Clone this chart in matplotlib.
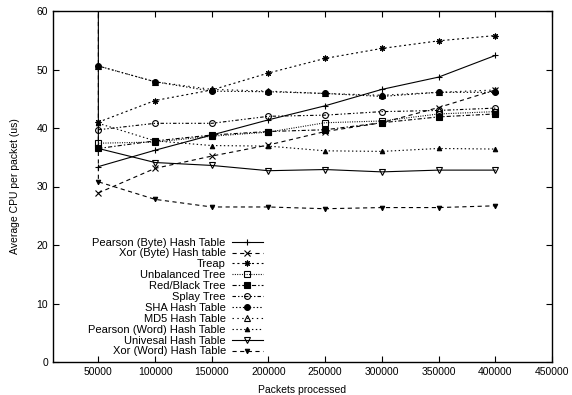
import matplotlib
matplotlib.use("Agg")
import matplotlib.pyplot as plt

plt.rcParams['font.family'] = ['Liberation Sans', 'DejaVu Sans']
plt.rcParams['font.size'] = 7.5
plt.rcParams['lines.scale_dashes'] = False

packets = [50000, 100000, 150000, 200000, 250000, 300000, 350000, 400000]

pearson_byte = [33.4, 36.2, 38.8, 41.4, 43.8, 46.6, 48.7, 52.4]
xor_byte = [28.9, 33.1, 35.2, 37.1, 39.4, 40.9, 43.5, 46.5]
treap = [41.0, 44.7, 46.5, 49.4, 51.9, 53.6, 54.9, 55.8]
unbalanced = [37.4, 37.6, 38.6, 39.3, 40.9, 41.2, 42.4, 42.8]
red_black = [36.5, 37.8, 38.8, 39.4, 39.7, 40.9, 41.9, 42.4]
splay = [39.7, 40.8, 40.8, 42.0, 42.2, 42.8, 43.0, 43.4]
sha = [50.6, 47.9, 46.3, 46.2, 45.9, 45.4, 46.1, 46.1]
md5 = [50.6, 47.9, 46.6, 46.3, 45.9, 45.6, 46.1, 46.5]
pearson_word = [40.8, 37.8, 37.0, 36.9, 36.1, 36.0, 36.5, 36.4]
# the two word hashes start with an off-scale warm-up sample at 50000
warmup_x = [50000]
universal = [100.0, 36.5, 34.1, 33.6, 32.7, 32.9, 32.5, 32.8, 32.8]
xor_word = [100.0, 30.8, 27.8, 26.5, 26.5, 26.2, 26.4, 26.4, 26.7]

series = [
    ("Pearson (Byte) Hash Table", packets, pearson_byte, (), '+', 'k'),
    ("Xor (Byte) Hash table", packets, xor_byte, (3, 2.5), 'x', 'k'),
    ("Treap", packets, treap, (1.5, 2.0), (8, 2, 0), 'k'),
    ("Unbalanced Tree", packets, unbalanced, (0.7, 1.0), 's', 'none'),
    ("Red/Black Tree", packets, red_black, (3, 1.5, 1, 1.5), 's', 'k'),
    ("Splay Tree", packets, splay, (2.5, 1.5, 1, 1.5, 1, 1.5), 'o', 'none'),
    ("SHA Hash Table", packets, sha, (1, 1.5), 'o', 'k'),
    ("MD5 Hash Table", packets, md5, (1, 2.5), '^', 'none'),
    ("Pearson (Word) Hash Table", packets, pearson_word, (1, 1.8), '^', 'k'),
    ("Univesal Hash Table", warmup_x + packets, universal, (), 'v', 'none'),
    ("Xor (Word) Hash Table", warmup_x + packets, xor_word, (3, 2.5), 'v', 'k'),
]

fig = plt.figure(figsize=(5.72, 3.95), dpi=100)
ax = fig.add_axes([53 / 572, 1 - 362 / 395, 499 / 572, 351 / 395])

for label, xs, ys, dash, marker, fill in series:
    ms = 3.2 if fill == 'k' and marker in ('^', 'v') else 4.2
    line, = ax.plot(xs, ys, color='k', lw=0.8, marker=marker, ms=ms,
                    mfc=fill, mec='k', mew=0.8, label=label)
    if dash:
        line.set_dashes(dash)

ax.set_xlim(10000, 450000)
ax.set_ylim(0, 60)
ax.set_xticks(range(50000, 450001, 50000))
ax.set_yticks(range(0, 61, 10))
ax.tick_params(direction='in', top=True, right=True, length=4, width=0.8)
for s in ax.spines.values():
    s.set_linewidth(1.0)

ax.set_xlabel("Packets processed", labelpad=6)
ax.set_ylabel("Average CPU per packet (us)", labelpad=12)

# gnuplot style key: label right aligned, sample to its right
ax.legend(loc='lower right', bbox_to_anchor=(0.432, 0.0), frameon=False,
          markerfirst=False, handlelength=2.8, handletextpad=0.55,
          labelspacing=0.08, borderpad=0.0, fontsize=8)

fig.savefig("out.png", dpi=100)
